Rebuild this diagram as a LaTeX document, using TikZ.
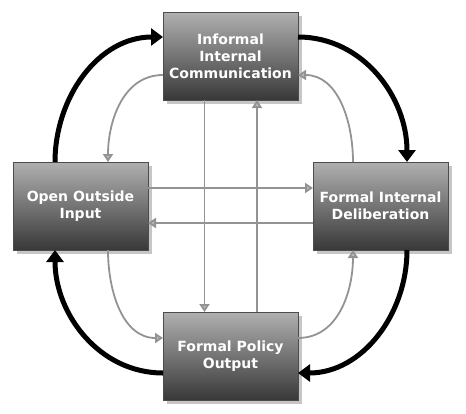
\documentclass[tikz,border=0pt]{standalone}
\usepackage{fontspec}
\setsansfont{DejaVu Sans}
\usetikzlibrary{arrows.meta,shadows}

\begin{document}
\begin{tikzpicture}[x=1pt, y=-1pt,
    main/.style = {rectangle, minimum width=135pt, minimum height=88pt, inner sep=0pt, outer sep=0pt,
        draw=gray!60!black, line width=0.4pt, top color=gray!62, bottom color=black!78,
        drop shadow={shadow xshift=4pt, shadow yshift=-4pt, fill=gray!45, opacity=1},
        text=white, align=center, font=\sffamily\bfseries\fontsize{14}{17}\selectfont},
    thin link/.style = {draw=gray!85, line width=1.8pt, -{Triangle[width=10pt, length=8pt, fill=gray!55]}},
    thick link/.style = {draw=black, line width=5pt, -{Triangle[width=17pt, length=12pt]}}]
        \useasboundingbox (0,0) rectangle (466,413);

        \node[main] (informal) at (230.5,56) {Informal\\Internal\\Communication};
        \node[main] (open) at (80.5,206) {Open Outside\\Input};
        \node[main] (formal) at (380.5,206) {Formal Internal\\Deliberation};
        \node[main] (policy) at (230.5,356) {Formal Policy\\Output};

        \draw[thin link] ([yshift=18pt]open.east) -- ([yshift=18pt]formal.west);
        \draw[thin link] ([yshift=-17pt]formal.west) -- ([yshift=-17pt]open.east);
        \draw[thin link] ([xshift=-26pt]informal.south) -- ([xshift=-26pt]policy.north);
        \draw[thin link] ([xshift=26.5pt]policy.north) -- ([xshift=26.5pt]informal.south);

        \draw[thin link] ([yshift=-19pt]informal.west) to[out=180, in=90] ([xshift=27.5pt]open.north);
        \draw[thin link] ([xshift=-27.5pt]formal.north) to[out=90, in=0] ([yshift=-19pt]informal.east);
        \draw[thin link] ([xshift=27.5pt]open.south) to[out=-90, in=180] ([yshift=18pt]policy.west);
        \draw[thin link] ([yshift=18pt]policy.east) to[out=0, in=-90] ([xshift=-27.5pt]formal.south);

        \draw[thick link] ([xshift=-25.5pt]open.north) to[out=90, in=180] ([yshift=19pt]informal.west);
        \draw[thick link] ([yshift=19pt]informal.east) to[out=0, in=90] ([xshift=26.5pt]formal.north);
        \draw[thick link] ([xshift=26.5pt]formal.south) to[out=-90, in=0] ([yshift=-17pt]policy.east);
        \draw[thick link] ([yshift=-17pt]policy.west) to[out=180, in=-90] ([xshift=-25.5pt]open.south);

    \end{tikzpicture}
\end{document}
